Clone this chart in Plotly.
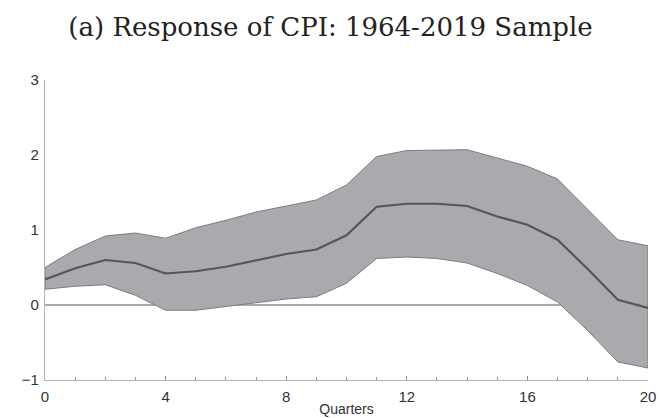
import plotly.graph_objects as go

# Impulse response of CPI, quarters after shock
quarters = list(range(21))
irf_mean = [0.34, 0.49, 0.60, 0.56, 0.42, 0.45, 0.51, 0.60, 0.68, 0.74, 0.93,
            1.31, 1.35, 1.35, 1.32, 1.18, 1.07, 0.87, 0.48, 0.07, -0.04]
irf_upper = [0.50, 0.74, 0.92, 0.96, 0.89, 1.03, 1.13, 1.24, 1.32, 1.40, 1.60,
             1.98, 2.06, 2.07, 2.07, 1.96, 1.85, 1.68, 1.28, 0.87, 0.79]
irf_lower = [0.21, 0.25, 0.27, 0.13, -0.07, -0.07, -0.02, 0.03, 0.08, 0.11, 0.29,
             0.62, 0.64, 0.62, 0.56, 0.42, 0.26, 0.04, -0.34, -0.76, -0.84]

x_major = [0, 4, 8, 12, 16, 20]
y_ticks = [-1, 0, 1, 2, 3]

fig = go.Figure()

# zero reference line (sits beneath the confidence band)
fig.add_trace(go.Scatter(
    x=[quarters[0], quarters[-1]], y=[0, 0], mode="lines",
    line=dict(color="#555555", width=1.2), hoverinfo="skip", showlegend=False))

# confidence band as a closed polygon
band_x = quarters + quarters[::-1] + [quarters[0]]
band_y = irf_upper + irf_lower[::-1] + [irf_upper[0]]
fig.add_trace(go.Scatter(
    x=band_x, y=band_y, mode="lines", fill="toself",
    fillcolor="#a9aaad", line=dict(color="#7c7d80", width=1),
    hoverinfo="skip", showlegend=False))

# point estimate
fig.add_trace(go.Scatter(
    x=quarters, y=irf_mean, mode="lines",
    line=dict(color="#555658", width=2.2), showlegend=False))

fig.update_layout(
    width=661, height=418,
    margin=dict(l=45, r=13, t=80, b=38),
    paper_bgcolor="white", plot_bgcolor="white",
    title=dict(text="(a) Response of CPI: 1964-2019 Sample",
               x=0.5, xanchor="center", y=0.935, yanchor="middle",
               font=dict(family="DejaVu Serif, Liberation Serif, serif",
                         size=26, color="#222222")),
    font=dict(family="Liberation Sans, Arial, sans-serif", size=15, color="#333333"),
)

fig.update_xaxes(
    range=[0, 20], tickvals=x_major, ticktext=[str(v) for v in x_major],
    showline=True, linecolor="#b5b5b5", linewidth=1.2,
    ticks="inside", ticklen=4, tickcolor="#888888",
    minor=dict(dtick=1, ticks="inside", ticklen=3, tickcolor="#999999"),
    showgrid=False, zeroline=False, automargin=False,
    title=dict(text="Quarters", standoff=0, font=dict(size=14)),
    tickfont=dict(size=15), ticklabelstandoff=3,
)
fig.update_yaxes(
    range=[-1, 3], tickvals=y_ticks, ticktext=["\u22121", "0", "1", "2", "3"],
    showline=True, linecolor="#b5b5b5", linewidth=1.2,
    ticks="", showgrid=False, zeroline=False, automargin=False,
    tickfont=dict(size=15), ticklabelstandoff=2,
)

fig.write_html("out.html")
